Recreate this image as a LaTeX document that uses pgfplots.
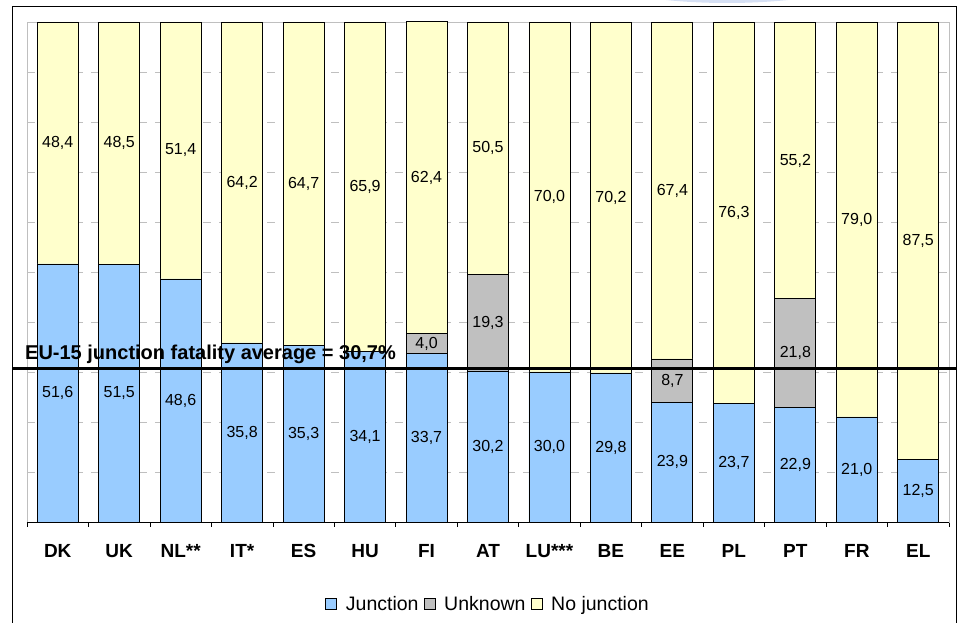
\documentclass[border=0pt]{standalone}
\usepackage{fontspec}
\setmainfont{Liberation Sans}
\usepackage{pgfplots}
\usepackage{pgfplotstable}
\pgfplotsset{compat=1.18}

\definecolor{junc}{HTML}{99CCFF}
\definecolor{unkn}{HTML}{C0C0C0}
\definecolor{nojunc}{HTML}{FFFFCC}
\definecolor{gridgray}{HTML}{BFBFBF}
\definecolor{haze}{RGB}{214,224,244}

% Share of road fatalities by location (percent)
\pgfplotstableread{
x  junction unknown nojunction
0  51.6     0       48.4
1  51.5     0       48.5
2  48.6     0       51.4
3  35.8     0       64.2
4  35.3     0       64.7
5  34.1     0       65.9
6  33.7     4.0     62.4
7  30.2     19.3    50.5
8  30.0     0       70.0
9  29.8     0       70.2
10 23.9     8.7     67.4
11 23.7     0       76.3
12 22.9     21.8    55.2
13 21.0     0       79.0
14 12.5     0       87.5
}\fatalities

\begin{document}
\begin{tikzpicture}
\useasboundingbox (0,0) rectangle (966pt,623pt);
\begin{scope}
\clip (0,0) rectangle (966pt,623pt);
% soft shape peeking in at the top edge
\fill[haze] (727pt,650pt) ellipse (140pt and 30pt);
% outer frame
\draw[black, line width=0.9pt] (12pt,617pt) rectangle (956pt,-20pt);

\begin{axis}[
  scale only axis,
  width=922pt, height=500pt,
  at={(27pt,101pt)}, anchor=south west,
  ybar stacked, bar width=41pt,
  xmin=-0.5, xmax=14.5, ymin=0, ymax=100,
  enlargelimits=false,
  clip=false,
  axis line style={gridgray, line width=0.8pt},
  xtick={0,...,14},
  xticklabels={DK,UK,NL**,IT*,ES,HU,FI,AT,LU***,BE,EE,PL,PT,FR,EL},
  xticklabel style={font=\bfseries\fontsize{19}{22}\selectfont, anchor=base, yshift=-36pt},
  minor xtick={-0.5,0.5,...,14.5},
  xtick pos=bottom,
  tick align=outside,
  major tick length=0pt,
  minor tick length=5pt,
  tick style={black, line width=0.7pt},
  ytick={10,20,...,90},
  yticklabels={},
  ymajorgrids,
  major grid style={gridgray, line width=0.8pt, dash pattern=on 8pt off 8pt},
  /pgf/number format/.cd, fixed, fixed zerofill, precision=1, use comma, assume math mode=true,
  /pgfplots/.cd,
  nodes near coords={\pgfmathfloatifflags{\pgfplotspointmeta}{0}{}{\pgfmathprintnumber{\pgfplotspointmeta}}},
  every node near coord/.append style={font=\fontsize{16}{19}\selectfont, anchor=center, black},
  area legend,
  legend image code/.code={\draw[#1, draw=black, line width=0.7pt] (0pt,-5.5pt) rectangle (11pt,5.5pt);},
  legend columns=-1,
  legend style={at={(0.5,-0.164)}, anchor=center, draw=none, fill=none,
    font=\fontsize{19.5}{22}\selectfont,
    /tikz/every even column/.append style={column sep=3pt},
    /tikz/every odd column/.append style={column sep=7pt}},
]
\addplot[fill=junc, draw=black, line width=0.9pt, point meta=explicit]
  table[x=x, y=junction, meta=junction] {\fatalities};
\addplot[fill=unkn, draw=black, line width=0.9pt, point meta=explicit]
  table[x=x, y=unknown, meta=unknown] {\fatalities};
\addplot[fill=nojunc, draw=black, line width=0.9pt, point meta=explicit]
  table[x=x, y=nojunction, meta=nojunction] {\fatalities};
\legend{Junction, Unknown, No junction}

% bottom axis line
\draw[black, line width=0.8pt] (axis cs:-0.5,0) -- (axis cs:14.5,0);
% ends of the EU-15 average line and the start of its caption
\coordinate (avgL) at (axis cs:-0.744,30.7);
\coordinate (avgR) at (axis cs:14.63,30.7);
\coordinate (avgT) at (axis cs:-0.533,30.7);
\end{axis}

% EU-15 average, drawn over the bars
\draw[black, line width=3pt] (avgL) -- (avgR);
\node[anchor=base west, inner sep=0pt, font=\bfseries\fontsize{20}{24}\selectfont, yshift=9pt]
  at (avgT) {EU-15 junction fatality average = 30,7\%};
\end{scope}
\end{tikzpicture}
\end{document}
